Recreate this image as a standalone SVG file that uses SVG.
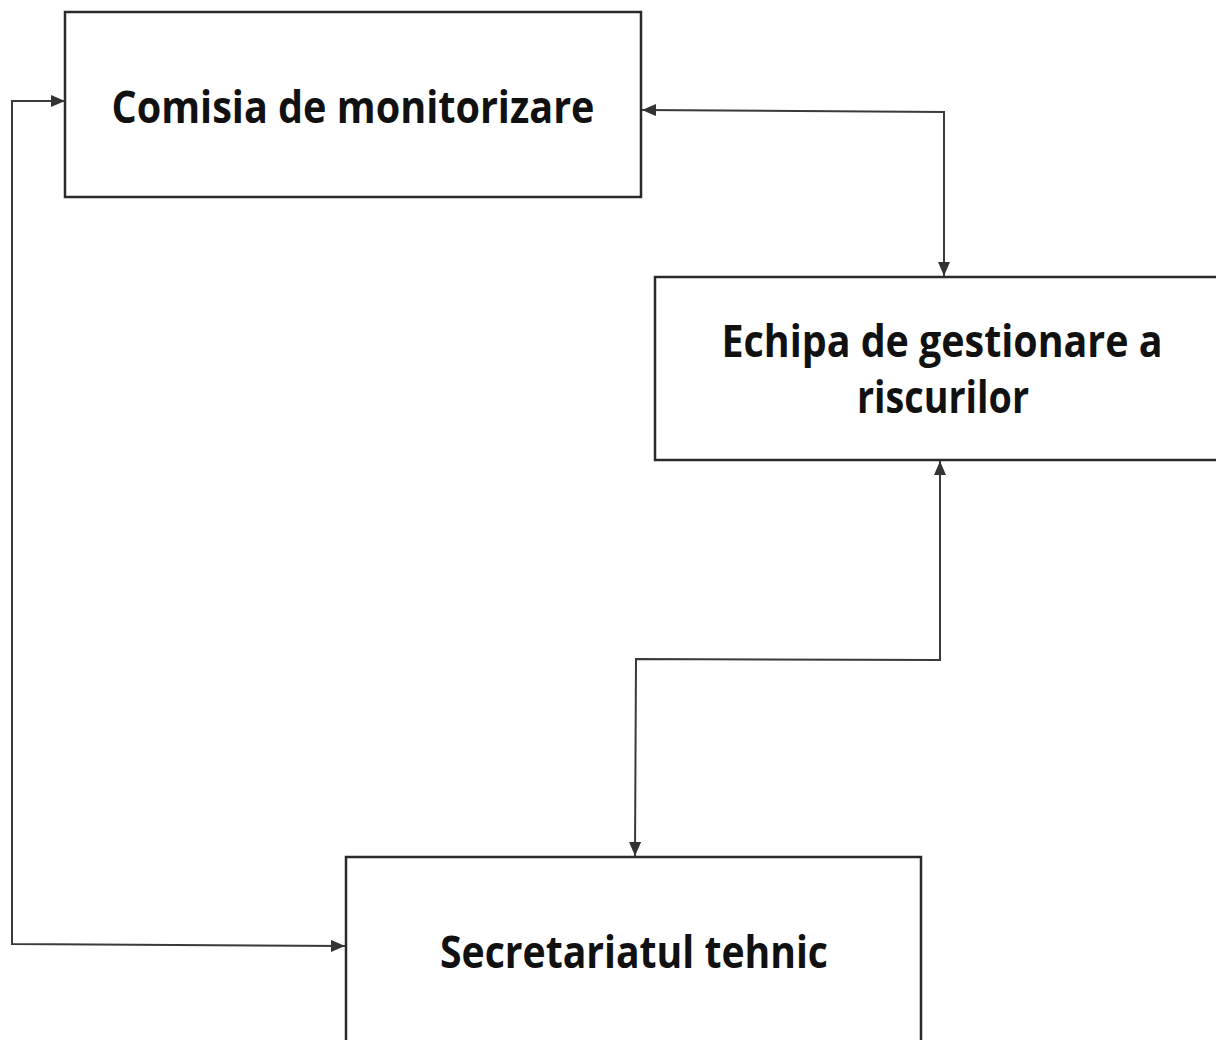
<svg xmlns="http://www.w3.org/2000/svg" width="1216" height="1040" viewBox="0 0 1216 1040">
<style>
.box{fill:#ffffff;stroke:#2a2a2a;stroke-width:2.5}
.lbl{font-family:"Open Sans","Liberation Sans",sans-serif;font-weight:700;font-size:44px;fill:#111;text-anchor:middle}
.con{fill:none;stroke:#3a3a3a;stroke-width:2}
</style>
<defs>
<marker id="ah" viewBox="0 0 14 12" refX="14" refY="6" markerWidth="14" markerHeight="12" markerUnits="userSpaceOnUse" orient="auto-start-reverse">
<path d="M0,0 L14,6 L0,12 Z" fill="#333"/>
</marker>
</defs>
<rect width="1216" height="1040" fill="#ffffff"/>
<g id="node-comisia">
<rect class="box" x="65" y="12" width="576" height="185"/>
<text class="lbl" x="353" y="123" textLength="483" lengthAdjust="spacingAndGlyphs">Comisia de monitorizare</text>
</g>
<g id="node-echipa">
<rect class="box" x="655" y="277" width="575" height="183"/>
<text class="lbl" x="942" y="357" textLength="441" lengthAdjust="spacingAndGlyphs">Echipa de gestionare a</text>
<text class="lbl" x="943" y="413" textLength="172" lengthAdjust="spacingAndGlyphs">riscurilor</text>
</g>
<g id="node-secretariat">
<rect class="box" x="346" y="857" width="575" height="200"/>
<text class="lbl" x="634" y="968" textLength="388" lengthAdjust="spacingAndGlyphs">Secretariatul tehnic</text>
</g>
<g id="connectors">
<path class="con" d="M65,101 L12,101 L12,944 L345,946" marker-start="url(#ah)" marker-end="url(#ah)"/>
<path class="con" d="M642,110 L944,112 L944,276" marker-start="url(#ah)" marker-end="url(#ah)"/>
<path class="con" d="M940,461 L940,660 L636,659 L635,856" marker-start="url(#ah)" marker-end="url(#ah)"/>
</g>
</svg>
